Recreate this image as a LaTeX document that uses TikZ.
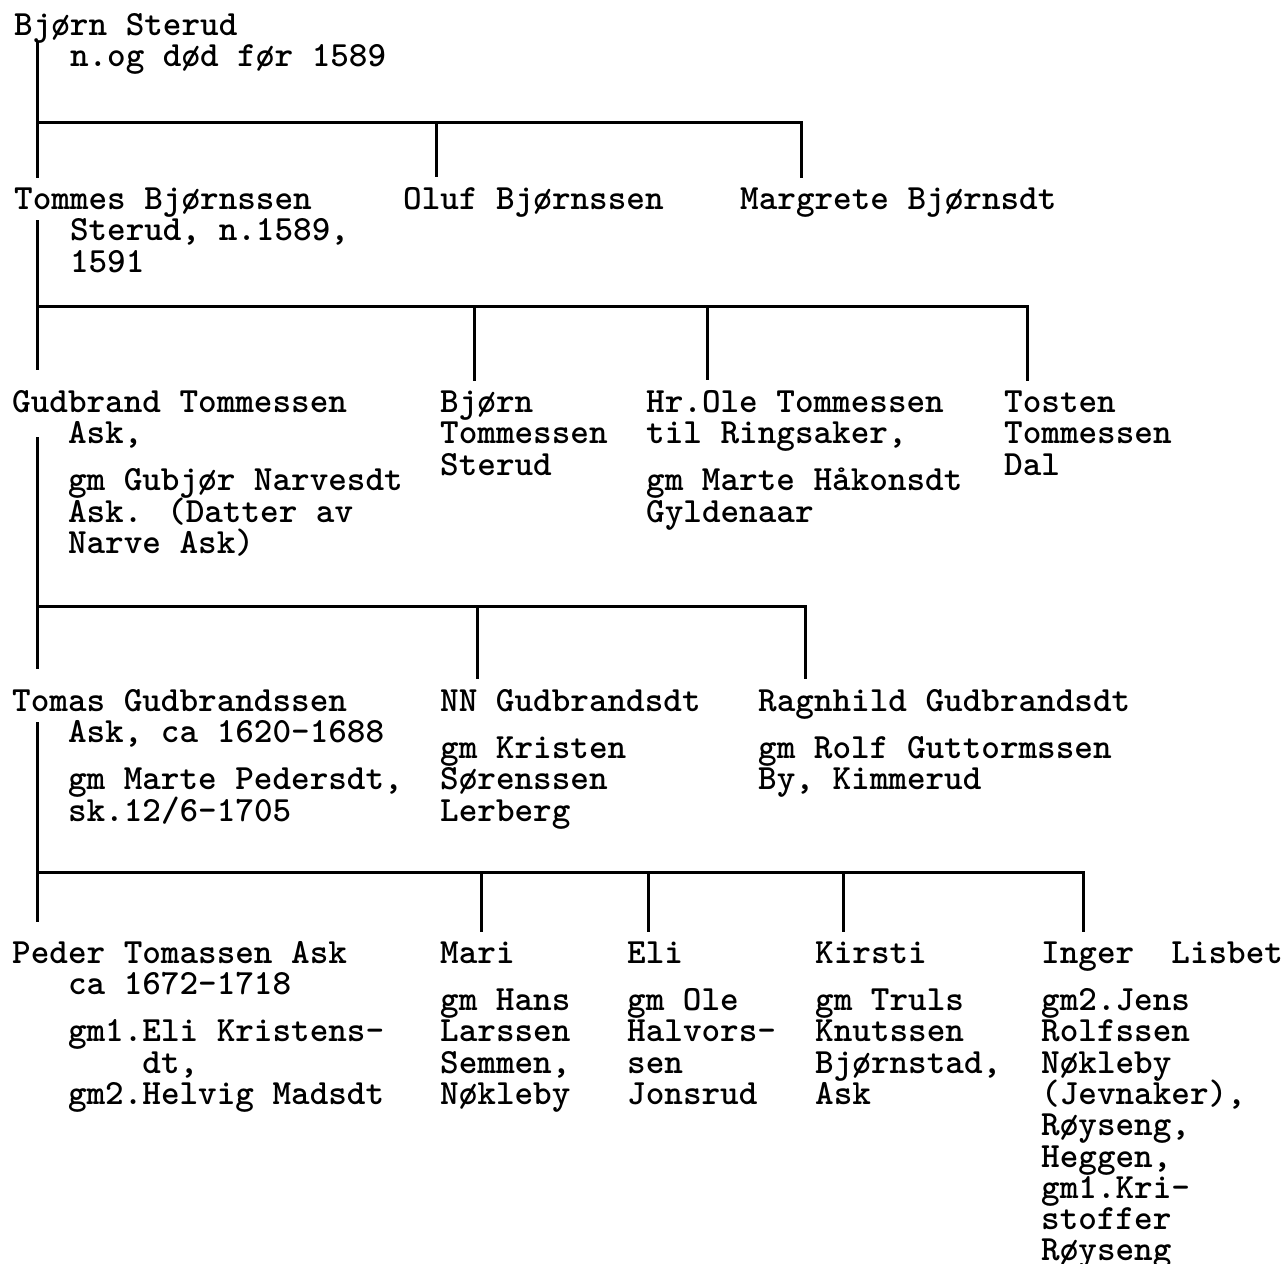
\documentclass[tikz,border=0pt]{standalone}
\usepackage{tikz}
\usetikzlibrary{calc,positioning}
\newlength\chw
\AtBeginDocument{%
  \settowidth\chw{\fontsize{12}{12}\selectfont\ttfamily\bfseries M}%
  \pgfmathsetmacro\tsize{12*18.6/\chw}%
  \global\let\tsize\tsize}
\newcommand\ind{\hspace*{55.8pt}}
\newcommand\persfont{%
  \fontsize{\tsize}{31.3}\selectfont\ttfamily\bfseries
  \lineskiplimit=-100pt\relax}
% nodes are placed at the baseline of their last line
\tikzset{
  person/.style={
    anchor=base west,
    align=left,
    inner xsep=0pt, inner ysep=10pt,
    yshift=-2.5pt,
    font=\persfont
  },
  line/.style={draw, line width=3pt},
}
\begin{document}
\begin{tikzpicture}[x=1pt,y=-1pt]
  \useasboundingbox (0,0) rectangle (1286,1264);
  % generation 0
  \node[person] (bjorn) at (14,64.3) {Bjørn Sterud\\\ind n.og død før 1589};
  % generation 1
  \node[person] (tommes) at (14,269.6) {Tommes Bjørnssen\\\ind Sterud, n.1589,\\\ind 1591};
  \node[person] (oluf) at (403,207) {Oluf Bjørnssen};
  \node[person] (margrete) at (740,207) {Margrete Bjørnsdt};
  % generation 2
  \node[person] (gudbrand) at (12,550.9) {Gudbrand Tommessen\\\ind Ask,\\[15.6pt]
    \ind gm Gubjør Narvesdt\\\ind Ask. (Datter av\\\ind Narve Ask)};
  \node[person] (bjornT) at (440,472.6) {Bjørn\\Tommessen\\Sterud};
  \node[person] (hrole) at (646,519.6) {Hr.Ole Tommessen\\til Ringsaker,\\[15.6pt]
    gm Marte Håkonsdt\\Gyldenaar};
  \node[person] (tosten) at (1004,472.6) {Tosten\\Tommessen\\Dal};
  % generation 3
  \node[person] (tomas) at (12,818.6) {Tomas Gudbrandssen\\\ind Ask, ca 1620-1688\\[15.6pt]
    \ind gm Marte Pedersdt,\\\ind sk.12/6-1705};
  \node[person] (nn) at (440,818.6) {NN Gudbrandsdt\\[15.6pt]gm Kristen\\Sørenssen\\Lerberg};
  \node[person] (ragnhild) at (758,787.3) {Ragnhild Gudbrandsdt\\[15.6pt]
    gm Rolf Guttormssen\\By, Kimmerud};
  % generation 4
  \node[person] (peder) at (12,1101.9) {Peder Tomassen Ask\\\ind ca 1672-1718\\[15.6pt]
    \ind gm1.Eli Kristens-\\\ind\hspace*{74.4pt}dt,\\\ind gm2.Helvig Madsdt};
  \node[person] (mari) at (440,1101.9) {Mari\\[15.6pt]gm Hans\\Larssen\\Semmen,\\Nøkleby};
  \node[person] (eli) at (627,1101.9) {Eli\\[15.6pt]gm Ole\\Halvors-\\sen\\Jonsrud};
  \node[person] (kirsti) at (815,1101.9) {Kirsti\\[15.6pt]gm Truls\\Knutssen\\Bjørnstad,\\Ask};
  \node[person] (inger) at (1041,1258.4) {Inger\ \ Lisbet\\[15.6pt]gm2.Jens\\Rolfssen\\Nøkleby\\
    (Jevnaker),\\Røyseng,\\Heggen,\\gm1.Kri-\\stoffer\\Røyseng};

  % junctions
  \coordinate (s0) at (37,42);
  \coordinate (s1) at (37,220);
  \coordinate (s2) at (37,437);
  \coordinate (s3) at (37,722);
  \coordinate (j1) at (37,122);
  \coordinate (j2) at (37,306);
  \coordinate (j3) at (37,606);
  \coordinate (j4) at (37,872);

  % Bjørn -> children
  \draw[line] (s0) -- (s0 |- tommes.north);
  \draw[line] (j1) -| (801,0 |- margrete.north);
  \draw[line] (j1 -| 436,0) -- (436,0 |- oluf.north);
  % Tommes -> children
  \draw[line, shorten >=10pt] (s1) -- (s1 |- gudbrand.north);
  \draw[line] (j2) -| (1027,0 |- tosten.north);
  \draw[line] (j2 -| 474,0) -- (474,0 |- bjornT.north);
  \draw[line] (j2 -| 707,0) -- (707,0 |- hrole.north);
  % Gudbrand -> children
  \draw[line, shorten >=10pt] (s2) -- (s2 |- tomas.north);
  \draw[line] (j3) -| (805,0 |- ragnhild.north);
  \draw[line] (j3 -| 477,0) -- (477,0 |- nn.north);
  % Tomas -> children
  \draw[line, shorten >=9pt] (s3) -- (s3 |- peder.north);
  \draw[line] (j4) -| (1083,0 |- inger.north);
  \draw[line] (j4 -| 481,0) -- (481,0 |- mari.north);
  \draw[line] (j4 -| 648,0) -- (648,0 |- eli.north);
  \draw[line] (j4 -| 843,0) -- (843,0 |- kirsti.north);
\end{tikzpicture}
\end{document}
